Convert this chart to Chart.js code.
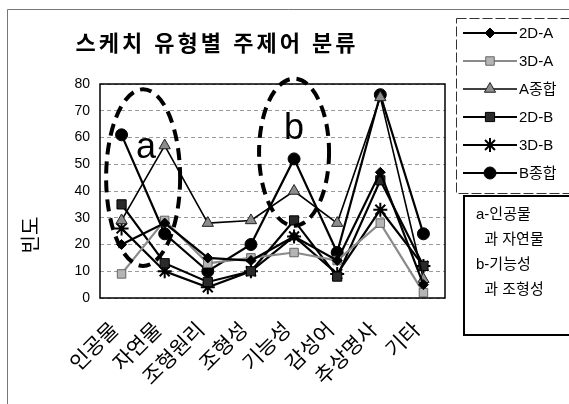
<!DOCTYPE html>
<html>
<head>
<meta charset="utf-8">
<script src="https://cdn.jsdelivr.net/npm/chart.js@4"></script>
<style>
  html, body { margin: 0; padding: 0; background: #fff; }
  #wrap { width: 569px; height: 404px; }
</style>
</head>
<body>
<div id="wrap"><canvas id="myChart"></canvas></div>
<script>
var categories = ['인공물', '자연물', '조형원리', '조형성', '기능성', '감성어', '추상명사', '기타'];
var seriesNames = ['2D-A', '3D-A', 'A종합', '2D-B', '3D-B', 'B종합'];
var d2A    = [20, 28, 15, 14, 23, 14, 47, 5];
var d3A    = [9, 29, 13, 15, 17, 14, 28, 2];
var aTotal = [29, 57, 28, 29, 40, 28, 75, 7];
var d2B    = [35, 13, 6, 10, 29, 8, 44, 12];
var d3B    = [26, 10, 4, 10, 23, 9, 33, 12];
var bTotal = [61, 24, 10, 20, 52, 17, 76, 24];
var noteLines = ['a-인공물', '  과 자연물', 'b-기능성', '  과 조형성'];

var FONT = "'Liberation Sans', Arial, 'Noto Sans CJK KR', sans-serif";

function ds(label, data, style) {
  return Object.assign({
    label: label,
    data: data,
    borderColor: '#000',
    borderWidth: 2.2,
    pointBorderColor: '#000',
    pointBorderWidth: 1,
    tension: 0
  }, style);
}

var datasets = [
  ds(seriesNames[0], d2A, { pointStyle: 'rectRot', pointRadius: 5, pointBackgroundColor: '#000' }),
  ds(seriesNames[1], d3A, { borderColor: '#8a8a8a', pointStyle: 'rect', pointRadius: 6, pointBackgroundColor: '#b5b5b5', pointBorderColor: '#666' }),
  ds(seriesNames[2], aTotal, { borderWidth: 1.6, pointStyle: 'triangle', pointRadius: 6.5, pointBackgroundColor: '#8c8c8c', pointBorderColor: '#222' }),
  ds(seriesNames[3], d2B, { pointStyle: 'rect', pointRadius: 6.5, pointBackgroundColor: '#2a2a2a' }),
  ds(seriesNames[4], d3B, { pointStyle: 'star', pointRadius: 7, pointBorderWidth: 2, pointBackgroundColor: '#000' }),
  ds(seriesNames[5], bTotal, { pointStyle: 'circle', pointRadius: 6, pointBackgroundColor: '#000' })
];

var decor = {
  id: 'decor',
  afterDatasetsDraw: function(chart) {
    var c = chart.ctx, xs = chart.scales.x, ys = chart.scales.y;
    c.save();
    c.strokeStyle = '#000';
    c.lineWidth = 4;
    c.setLineDash([12, 7]);
    // ellipse a
    var ax = (xs.getPixelForValue(0) + xs.getPixelForValue(1)) / 2;
    var ay = ys.getPixelForValue(45);
    c.beginPath();
    c.ellipse(ax, ay, 37, ay - ys.getPixelForValue(78), 0, 0, Math.PI * 2);
    c.stroke();
    // ellipse b
    var bx = xs.getPixelForValue(4);
    var by = ys.getPixelForValue(54.5);
    c.beginPath();
    c.ellipse(bx, by, 35, by - ys.getPixelForValue(82), 0, 0, Math.PI * 2);
    c.stroke();
    c.setLineDash([]);
    c.fillStyle = '#000';
    c.font = '36px ' + FONT;
    c.textAlign = 'center';
    c.textBaseline = 'middle';
    c.fillText('a', ax + 3, ys.getPixelForValue(56));
    c.fillText('b', bx, ys.getPixelForValue(63));
    c.restore();
  },
  afterDraw: function(chart) {
    var c = chart.ctx, a = chart.chartArea;
    c.save();
    // outer frame
    c.strokeStyle = '#777';
    c.lineWidth = 1;
    c.beginPath();
    c.moveTo(7.5, 404); c.lineTo(7.5, 9.5); c.lineTo(569, 9.5);
    c.stroke();
    // plot box
    c.strokeStyle = '#000';
    c.lineWidth = 1.5;
    c.strokeRect(a.left, a.top, a.right - a.left, a.bottom - a.top);
    // title
    c.fillStyle = '#000';
    c.font = 'bold 22px ' + FONT;
    c.letterSpacing = '3px';
    c.textAlign = 'center';
    c.textBaseline = 'middle';
    c.fillText('스케치 유형별 주제어 분류', 217, 45);
    c.letterSpacing = '0px';
    // y title
    c.save();
    c.translate(32, 235);
    c.rotate(-Math.PI / 2);
    c.font = '20px ' + FONT;
    c.fillText('빈도', 0, 0);
    c.restore();
    // legend box
    c.fillStyle = '#fff';
    c.fillRect(456, 18, 113, 176);
    c.strokeStyle = '#333';
    c.lineWidth = 1;
    c.setLineDash([10, 3]);
    c.strokeRect(456.5, 18.5, 120, 175);
    c.setLineDash([]);
    c.font = '15px ' + FONT;
    c.textAlign = 'left';
    chart.data.datasets.forEach(function(d, i) {
      var y = 33 + i * 28;
      c.strokeStyle = d.borderColor;
      c.lineWidth = d.borderWidth;
      c.beginPath(); c.moveTo(463, y); c.lineTo(517, y); c.stroke();
      c.fillStyle = d.pointBackgroundColor;
      c.strokeStyle = d.pointBorderColor;
      c.lineWidth = d.pointBorderWidth;
      Chart.helpers.drawPoint(c, { pointStyle: d.pointStyle, radius: d.pointRadius, borderWidth: d.pointBorderWidth, rotation: 0 }, 490, y);
      c.fillStyle = '#000';
      c.fillText(d.label, 519, y + 1);
    });
    // note box
    c.fillStyle = '#fff';
    c.fillRect(463, 195, 106, 140);
    c.strokeStyle = '#000';
    c.lineWidth = 2;
    c.strokeRect(464, 196, 110, 139);
    c.fillStyle = '#000';
    c.font = '15px ' + FONT;
    noteLines.forEach(function(t, i) {
      c.fillText(t, 476, 215 + i * 25);
    });
    c.restore();
  }
};

var ctx = document.getElementById('myChart').getContext('2d');
var myChart = new Chart(ctx, {
  type: 'line',
  data: { labels: categories, datasets: datasets },
  plugins: [decor],
  options: {
    responsive: true,
    maintainAspectRatio: false,
    animation: false,
    layout: { padding: { left: 0, top: 84, right: 124, bottom: 0 } },
    plugins: {
      legend: { display: false },
      title: { display: false },
      tooltip: { enabled: false }
    },
    scales: {
      x: {
        offset: true,
        afterFit: function(s) { s.height = 106; },
        grid: { display: false },
        border: { display: false },
        ticks: {
          color: '#000',
          font: { size: 21, family: FONT },
          minRotation: 45,
          maxRotation: 45,
          labelOffset: -6,
          padding: 12,
          autoSkip: false
        }
      },
      y: {
        min: 0,
        max: 80,
        afterFit: function(s) { s.width = 100; },
        border: { display: false, dash: [4, 3] },
        grid: { color: '#9a9a9a', drawTicks: false },
        ticks: {
          stepSize: 10,
          color: '#000',
          padding: 10,
          font: { size: 14, family: FONT }
        }
      }
    }
  }
});
</script>
</body>
</html>
